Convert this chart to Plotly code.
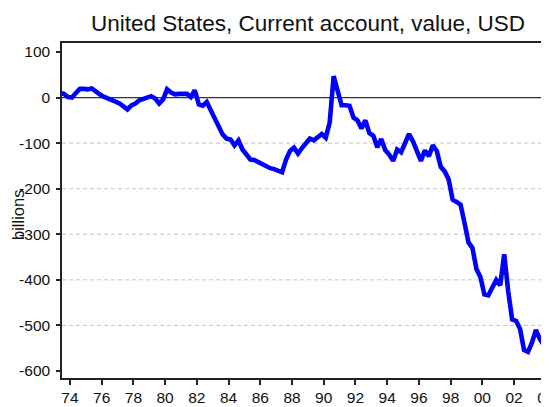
import plotly.graph_objects as go

# ---- data (quarterly, billions USD, annualized), first value is 1973Q4 ----
start_year, start_quarter = 1973, 4
current_account = [
    10,                     # 1973 Q4
    8, 1, 0, 10,            # 1974
    19, 19, 18, 20,         # 1975
    12, 7, 2, -1,           # 1976
    -6, -9, -13, -19,       # 1977
    -26, -17, -13, -6,      # 1978
    -3, -2, 3, -2,          # 1979
    -13, -4, 18, 11,        # 1980
    7, 8, 9, 8,             # 1981
    1, 16, -15, -18,        # 1982
    -10, -28, -48, -63,     # 1983
    -81, -90, -92, -105,    # 1984
    -94, -114, -126, -136,  # 1985
    -137, -142, -147, -152, # 1986
    -155, -157, -160, -164, # 1987
    -136, -117, -110, -123, # 1988
    -111, -102, -90, -94,   # 1989
    -87, -80, -88, -55,     # 1990
    47, 12, -17, -17,       # 1991
    -18, -44, -50, -68,     # 1992
    -50, -78, -84, -109,    # 1993
    -91, -115, -125, -139,  # 1994
    -114, -120, -97, -80,   # 1995
    -96, -116, -139, -116,  # 1996
    -129, -105, -117, -152, # 1997
    -162, -180, -224, -229, # 1998
    -235, -275, -318, -330, # 1999
    -376, -394, -432, -434, # 2000
    -418, -400, -412, -344, # 2001
    -424, -487, -490, -508, # 2002
    -554, -558, -538, -510, # 2003
    -530, -545, -558, -570, # 2004
]
x_tick_years = list(range(1974, 2005, 2))
x_tick_labels = ["74", "76", "78", "80", "82", "84", "86", "88", "90",
                 "92", "94", "96", "98", "00", "02", "04"]
y_tick_values = [100, 0, -100, -200, -300, -400, -500, -600]
y_tick_labels = ["100", "0", "-100", "-200", "-300", "-400", "-500", "-600"]
grid_values = [0, -100, -200, -300, -400, -500]

title_text = "United States, Current account, value, USD"
y_label = "billions"

# quarter midpoints on a decimal-year axis
t0 = start_year + (start_quarter - 1) / 4
x_vals = [t0 + (i + 0.5) / 4 for i in range(len(current_account))]

FONT = "Liberation Sans, Arial, sans-serif"

# page has an 8px body margin; figure is sized so that it fills the window
OFF = 8
W, H = 549 - OFF, 407 - OFF
L, T, B = 62 - OFF, 43 - OFF, 407 - 378   # plot area in page px: x 62..549, y 43..378
PW, PH = W - L, H - T - B

fig = go.Figure()
fig.add_trace(go.Scatter(
    x=x_vals, y=current_account, mode="lines",
    line=dict(color="#0000ff", width=4.6),
    hoverinfo="x+y", showlegend=False,
))

shapes = []
for g in grid_values:
    shapes.append(dict(type="line", xref="paper", yref="y", x0=0, x1=1, y0=g, y1=g,
                       line=dict(color="#c4c4c4", width=1, dash="4px,3px"), layer="below"))
shapes.append(dict(type="line", xref="paper", yref="y", x0=0, x1=1, y0=0, y1=0,
                   line=dict(color="#333333", width=1.2), layer="below"))

fig.update_layout(
    width=W, height=H,
    margin=dict(l=L, r=0, t=T, b=B, autoexpand=False),
    paper_bgcolor="white", plot_bgcolor="white",
    font=dict(family=FONT, color="#111111"),
    title=dict(text=title_text, font=dict(size=22.5, family=FONT, color="#111111"),
               xref="paper", x=(308 - 62) / PW, xanchor="center",
               yref="container", y=1 - (23.5 - OFF) / H, yanchor="middle"),
    shapes=shapes,
    annotations=[dict(text=y_label, xref="paper", yref="paper",
                      x=(18 - 62) / PW, y=(378 - 215) / PH,
                      xanchor="center", yanchor="middle", textangle=-90,
                      showarrow=False, font=dict(size=16.5, family=FONT, color="#111111"))],
    xaxis=dict(range=[1974.0, 2004.7], tickvals=[y + 0.5 for y in x_tick_years],
               ticktext=x_tick_labels, showgrid=False, zeroline=False,
               showline=True, linecolor="#222222", linewidth=1.5, mirror=True,
               ticks="outside", ticklen=5, tickwidth=1.5, tickcolor="#222222",
               ticklabeloverflow="allow",
               tickfont=dict(size=15.5, family=FONT, color="#111111"),
               automargin=False, fixedrange=True),
    yaxis=dict(range=[-615.4, 119.7], tickvals=y_tick_values, ticktext=y_tick_labels,
               showgrid=False, zeroline=False,
               showline=True, linecolor="#222222", linewidth=1.5,
               ticks="outside", ticklen=4, tickwidth=1.5, tickcolor="#222222",
               ticklabelstandoff=3,
               tickfont=dict(size=15.5, family=FONT, color="#111111"),
               automargin=False, fixedrange=True),
)

fig.write_html("out.html", config={"displayModeBar": False})
